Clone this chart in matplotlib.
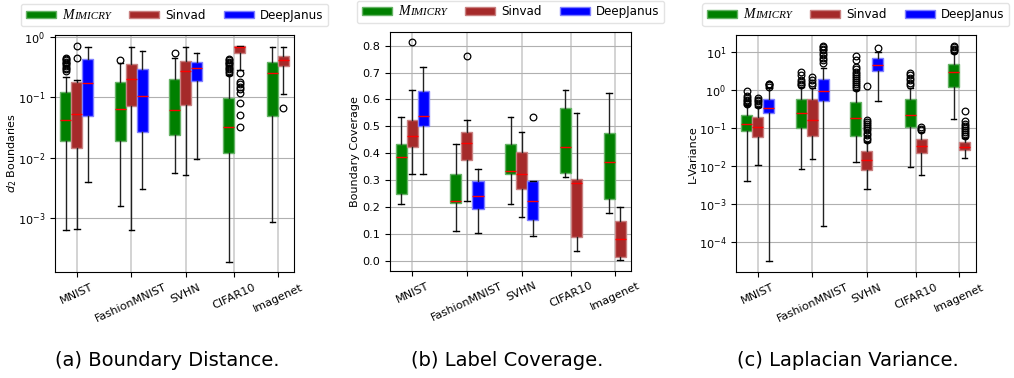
import matplotlib
matplotlib.use("Agg")
import matplotlib.pyplot as plt
from matplotlib.patches import Patch
from matplotlib.offsetbox import TextArea, HPacker
import matplotlib.ticker as mticker

datasets = ["MNIST", "FashionMNIST", "SVHN", "CIFAR10", "Imagenet"]
methods = ["Mimicry", "Sinvad", "DeepJanus"]

# stats rows: [whislo, q1, median, q3, whishi]; None = method not run on dataset
# ---- (a) Boundary distance ----
a_mim = [[6.4e-4, 0.0192, 0.042, 0.124, 0.219],
         [1.62e-3, 0.0192, 0.063, 0.177, 0.37],
         [0.00555, 0.0238, 0.0616, 0.2, 0.45],
         [1.92e-4, 0.0121, 0.0319, 0.0986, 0.234],
         [8.8e-4, 0.049, 0.249, 0.379, 0.686]]
a_mim_fl = [[0.27, 0.29, 0.31, 0.33, 0.35, 0.37, 0.39, 0.41, 0.43, 0.45],
            [0.41], [0.54],
            [0.25, 0.27, 0.29, 0.31, 0.33, 0.35, 0.37, 0.39, 0.41, 0.43],
            []]
a_sin = [[6.6e-4, 0.0144, 0.053, 0.181, 0.19],
         [6.4e-4, 0.0718, 0.199, 0.355, 0.686],
         [0.0052, 0.0746, 0.275, 0.403, 0.686],
         [0.282, 0.53, 0.69, 0.705, 0.705],
         [0.1135, 0.329, 0.414, 0.488, 0.686]]
a_sin_fl = [[0.45, 0.71], [], [],
            [0.249, 0.181, 0.165, 0.15, 0.135, 0.116, 0.0796, 0.051, 0.032],
            [0.0658]]
a_dj = [[0.00403, 0.049, 0.174, 0.425, 0.686],
        [0.003, 0.027, 0.106, 0.29, 0.59],
        [0.0094, 0.188, 0.301, 0.387, 0.545],
        None, None]
a_dj_fl = [[], [], [], [], []]

# ---- (b) Label coverage ----
b_mim = [[0.212, 0.247, 0.385, 0.434, 0.535],
         [0.112, 0.2135, 0.223, 0.321, 0.434],
         [0.212, 0.3226, 0.334, 0.433, 0.535],
         [0.3126, 0.325, 0.424, 0.568, 0.634],
         [0.1786, 0.2307, 0.366, 0.474, 0.625]]
b_mim_fl = [[], [], [], [], []]
b_sin = [[0.323, 0.424, 0.463, 0.525, 0.634],
         [0.223, 0.3735, 0.437, 0.48, 0.5235],
         [0.1614, 0.2656, 0.3226, 0.403, 0.48],
         [0.035, 0.088, 0.29, 0.305, 0.5485],
         [0.0015, 0.0149, 0.082, 0.149, 0.201]]
b_sin_fl = [[0.813], [0.762], [], [], []]
b_dj = [[0.323, 0.501, 0.54, 0.631, 0.722],
        [0.102, 0.1935, 0.2407, 0.2966, 0.342],
        [0.0907, 0.1514, 0.221, 0.2977, 0.2977],
        None, None]
b_dj_fl = [[], [], [0.533], [], []]

# ---- (c) Laplacian variance ----
c_mim = [[0.00405, 0.083, 0.129, 0.219, 0.4],
         [0.0082, 0.098, 0.242, 0.574, 1.21],
         [0.0126, 0.0626, 0.182, 0.488, 0.99],
         [0.0093, 0.108, 0.222, 0.564, 1.1],
         [0.169, 1.21, 2.88, 4.84, 9.1]]
c_mim_fl = [[0.42, 0.45, 0.5, 0.55, 0.6, 0.7, 0.93],
            [1.35, 1.45, 1.6, 1.8, 2.4, 3.0],
            [1.1, 1.25, 1.4, 1.6, 1.8, 2.0, 2.3, 2.6, 3.0, 3.5, 4.0, 6.0, 7.5],
            [1.3, 1.5, 1.8, 2.1, 2.4, 2.7],
            [10.5, 11, 12, 13, 14]]
c_sin = [[0.0105, 0.0568, 0.108, 0.194, 0.348],
         [0.015, 0.0615, 0.161, 0.574, 1.1],
         [0.0025, 0.0079, 0.0144, 0.0248, 0.044],
         [0.0058, 0.0216, 0.0342, 0.0504, 0.08],
         [0.016, 0.0264, 0.0322, 0.042, 0.0535]]
c_sin_fl = [[0.4, 0.45, 0.5, 0.55, 0.6],
            [1.35, 1.5, 1.8, 2.2],
            [0.048, 0.055, 0.065, 0.075, 0.09, 0.1, 0.115, 0.13, 0.145, 0.161, 1.26],
            [0.09, 0.095, 0.105],
            [0.06, 0.07, 0.08, 0.09, 0.1, 0.11, 0.13, 0.15, 0.283]]
c_dj = [[3.2e-5, 0.242, 0.34, 0.563, 1.1],
        [2.7e-4, 0.5, 0.914, 1.96, 3.67],
        [0.509, 3.12, 4.48, 6.71, 10.0],
        None, None]
c_dj_fl = [[1.2, 1.3, 1.4, 1.45],
           [5, 6, 7, 8, 9.5, 11, 12, 13, 14],
           [12.7], [], []]

colors = ["#008000", "#a52a2a", "#0000ff"]
edge_colors = ["#66b366", "#c98080", "#7f7fff"]

fig = plt.figure(figsize=(10.14, 3.78), dpi=100)
W, H = 1014.0, 378.0


def ax_rect(l, t, r, b):
    return [l / W, 1 - b / H, (r - l) / W, (b - t) / H]


panels = [
    dict(rect=ax_rect(55, 34.5, 294.3, 272.3), series=[(a_mim, a_mim_fl), (a_sin, a_sin_fl), (a_dj, a_dj_fl)],
         log=True, ylim=(1.28e-4, 1.09), ylabel=r"$d_2$ Boundaries", caption="(a) Boundary Distance.",
         label_x=12.5, cap_x=167.5, leg_y=1.034),
    dict(rect=ax_rect(390, 31.7, 631.3, 270.7), series=[(b_mim, b_mim_fl), (b_sin, b_sin_fl), (b_dj, b_dj_fl)],
         log=False, ylim=(-0.0372, 0.852), ylabel="Boundary Coverage", caption="(b) Label Coverage.",
         label_x=355, cap_x=507.5, leg_y=1.036),
    dict(rect=ax_rect(736, 35, 975.7, 272.3), series=[(c_mim, c_mim_fl), (c_sin, c_sin_fl), (c_dj, c_dj_fl)],
         log=True, ylim=(1.63e-5, 27.4), ylabel="L-Variance", caption="(c) Laplacian Variance.",
         label_x=693, cap_x=848, leg_y=1.038),
]

box_w = 1.0
group_gap = 2.95


def add_smallcaps(leg, t0, fig):
    def walk(box):
        for ch in box.get_children():
            if isinstance(ch, HPacker):
                kids = ch.get_children()
                for j, k in enumerate(kids):
                    if isinstance(k, TextArea) and k._text is t0:
                        small = TextArea("IMICRY", textprops=dict(fontfamily="Liberation Serif",
                                                                    fontstyle="italic", fontsize=8.0))
                        hp = HPacker(children=[k, small], pad=0, sep=0.5, align="baseline")
                        hp.set_figure(fig)
                        small.set_figure(fig)
                        kids[j] = hp
                        return True
            if hasattr(ch, "get_children") and not isinstance(ch, TextArea):
                try:
                    if walk(ch):
                        return True
                except Exception:
                    pass
        return False
    walk(leg._legend_box)


for p in panels:
    ax = fig.add_axes(p["rect"])
    ax.set_axisbelow(True)
    if p["log"]:
        ax.set_yscale("log")
    x = 0.0
    tick_pos = []
    for di in range(len(datasets)):
        present = [mi for mi in range(3) if p["series"][mi][0][di] is not None]
        xs = []
        for k, mi in enumerate(present):
            if k > 0:
                x += box_w
            xs.append(x)
            st = p["series"][mi][0][di]
            fl = p["series"][mi][1][di]
            stats = [dict(whislo=st[0], q1=st[1], med=st[2], q3=st[3], whishi=st[4], fliers=fl)]
            ax.bxp(stats, positions=[x], widths=box_w, patch_artist=True, manage_ticks=False,
                   boxprops=dict(facecolor=colors[mi], edgecolor=edge_colors[mi], linewidth=1.0),
                   medianprops=dict(color="red", linewidth=1.0),
                   whiskerprops=dict(color="#222222", linewidth=1.0),
                   capprops=dict(color="black", linewidth=1.0),
                   flierprops=dict(marker="o", markerfacecolor="none", markeredgecolor="black",
                                   markersize=4.8, markeredgewidth=0.9))
        tick_pos.append((xs[0] + xs[-1]) / 2)
        x += group_gap
    ax.set_xticks(tick_pos)
    ax.set_xticklabels(datasets, rotation=25, fontsize=8.1)
    ax.set_xlim(-1.0, x - group_gap + 1.0)
    ax.set_ylim(*p["ylim"])
    if p["log"]:
        ax.yaxis.set_minor_locator(mticker.NullLocator())
    else:
        ax.set_yticks([0.0, 0.1, 0.2, 0.3, 0.4, 0.5, 0.6, 0.7, 0.8])
    ax.tick_params(axis="y", labelsize=8.1)
    ax.grid(axis="y", color="#b0b0b0", linewidth=0.8)
    ax.grid(axis="x", color="#cccccc", linewidth=1.2)
    ax.set_ylabel(p["ylabel"], fontsize=8.0, va="center")
    ax.yaxis.set_label_coords((p["label_x"] - p["rect"][0] * W) / (p["rect"][2] * W), 0.5)

    handles = [Patch(facecolor=colors[i], edgecolor=edge_colors[i]) for i in range(3)]
    leg = ax.legend(handles, ["M", "Sinvad", "DeepJanus"], loc="lower center",
                    bbox_to_anchor=(0.5, p["leg_y"]), ncol=3, fontsize=8.6, handlelength=2.5,
                    handleheight=0.6, handletextpad=0.5, columnspacing=1.55, borderpad=0.4,
                    borderaxespad=0.0, frameon=True, fancybox=True, edgecolor="#dddddd")
    t0 = leg.texts[0]
    t0.set_fontfamily("Liberation Serif")
    t0.set_fontstyle("italic")
    t0.set_fontsize(10.0)
    add_smallcaps(leg, t0, fig)

    fig.text(p["cap_x"] / W, 0.045, p["caption"], ha="center", va="center",
             fontsize=14, fontfamily="DejaVu Sans")

fig.savefig("out.png", dpi=100)
